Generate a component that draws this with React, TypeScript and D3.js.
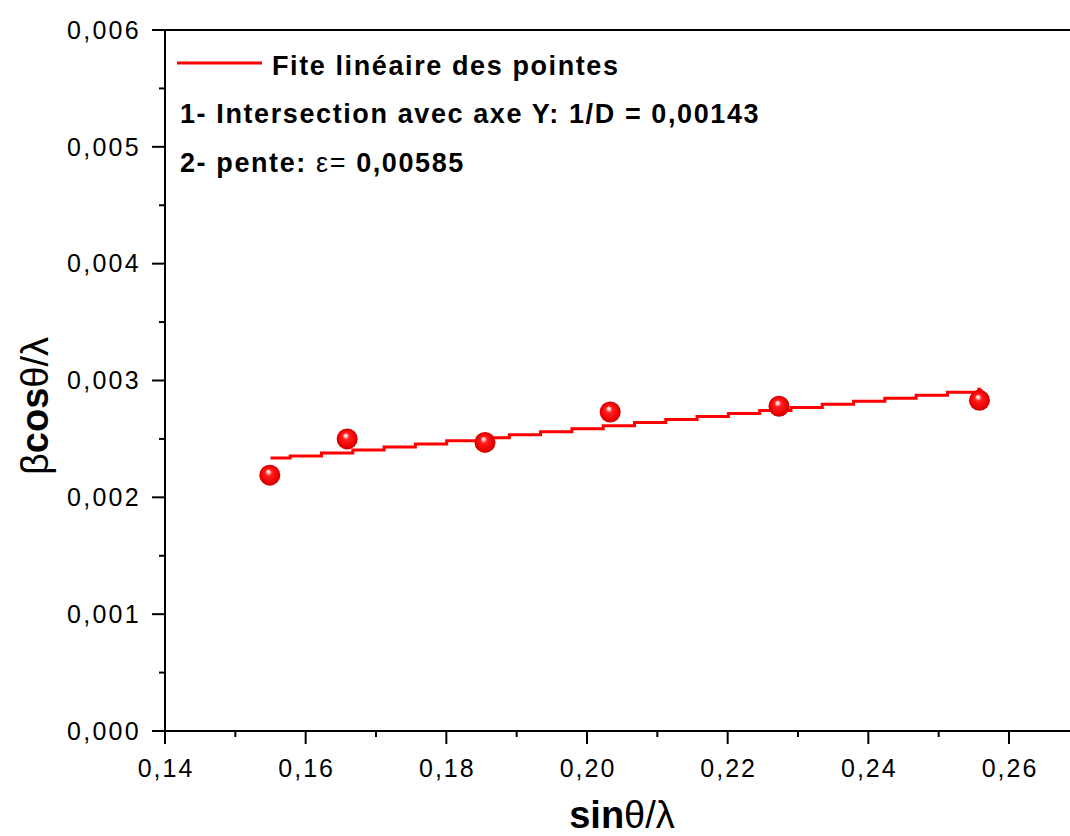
import React from "react";
import * as d3 from "d3";

const xValues = [0.1549, 0.1659, 0.1855, 0.2033, 0.2273, 0.2558];
const yValues = [0.00219, 0.0025, 0.00247, 0.00273, 0.00278, 0.00283];
const xTicks = [0.14, 0.16, 0.18, 0.2, 0.22, 0.24, 0.26];
const yTicks = [0, 0.001, 0.002, 0.003, 0.004, 0.005, 0.006];
const FIT_INTERCEPT = 0.00143;
const FIT_SLOPE = 0.00585;
const FIT_START = 0.155;
const FIT_END = 0.256;
const FIT_FIRST_STEP = 0.1578;
const FIT_STEP = 0.00445;

const W = 1070;
const H = 836;
const left = 165;
const top = 30;
const bottom = 731;

const x = d3.scaleLinear().domain([0.14, 0.26]).range([left, 1009]);
const y = d3.scaleLinear().domain([0, 0.006]).range([bottom, top]);

const fmtX = (v: number) => v.toFixed(2).replace(".", ",");
const fmtY = (v: number) => v.toFixed(3).replace(".", ",");

export default function App() {
  const fitXs: number[] = [FIT_START];
  for (let v = FIT_FIRST_STEP; v < FIT_END; v += FIT_STEP) fitXs.push(v);
  fitXs.push(FIT_END);
  const fitPts = fitXs.map((v) => [v, FIT_INTERCEPT + FIT_SLOPE * v] as [number, number]);
  const fitLine = d3
    .line<[number, number]>()
    .x((d) => x(d[0]))
    .y((d) => y(d[1]))
    .curve(d3.curveStepAfter)(fitPts) as string;

  const xMinor = d3.range(0, 7).map((i) => 0.15 + i * 0.02);
  const yMinor = d3.range(0, 6).map((i) => 0.0005 + i * 0.001);

  const font = "Liberation Sans, Arial, sans-serif";
  const legendProps = {
    fontFamily: font,
    fontSize: 27,
    fontWeight: "bold" as const,
    letterSpacing: 1.6,
    fill: "#000",
  };

  return (
    <div style={{ position: "absolute", left: 0, top: 0 }}>
      <svg width={W} height={H} style={{ display: "block", background: "#fff" }}>
        <defs>
          <radialGradient id="ball" cx="50%" cy="50%" r="50%" fx="42%" fy="32%">
            <stop offset="0%" stopColor="#ffffff" />
            <stop offset="14%" stopColor="#ffc0c0" />
            <stop offset="32%" stopColor="#ff2020" />
            <stop offset="80%" stopColor="#f00000" />
            <stop offset="100%" stopColor="#c00000" />
          </radialGradient>
        </defs>

        {/* frame */}
        <line x1={left} x2={W} y1={top} y2={top} stroke="#000" strokeWidth={2} />
        <line x1={left} x2={left} y1={top - 1} y2={bottom + 1} stroke="#000" strokeWidth={2} />
        <line x1={left - 1} x2={W} y1={bottom} y2={bottom} stroke="#000" strokeWidth={2} />

        {/* y ticks */}
        {yTicks.map((t) => (
          <g key={"yt" + t}>
            <line x1={left - 13} x2={left} y1={y(t)} y2={y(t)} stroke="#000" strokeWidth={2} />
            <text
              x={141}
              y={y(t)}
              dy="0.35em"
              textAnchor="end"
              fontFamily={font}
              fontSize={25}
              letterSpacing={2.3}
              fill="#000"
            >
              {fmtY(t)}
            </text>
          </g>
        ))}
        {yMinor.map((t) => (
          <line key={"ym" + t} x1={left - 6} x2={left} y1={y(t)} y2={y(t)} stroke="#000" strokeWidth={2} />
        ))}

        {/* x ticks */}
        {xTicks.map((t) => (
          <g key={"xt" + t}>
            <line x1={x(t)} x2={x(t)} y1={bottom} y2={bottom + 13} stroke="#000" strokeWidth={2} />
            <text
              x={x(t) + 1}
              y={777}
              textAnchor="middle"
              fontFamily={font}
              fontSize={25}
              letterSpacing={2}
              fill="#000"
            >
              {fmtX(t)}
            </text>
          </g>
        ))}
        {xMinor.map((t) => (
          <line key={"xm" + t} x1={x(t)} x2={x(t)} y1={bottom} y2={bottom + 6} stroke="#000" strokeWidth={2} />
        ))}

        {/* axis titles */}
        <text x={622} y={828} textAnchor="middle" fontFamily={font} fontSize={38} fill="#000">
          <tspan fontWeight="bold">sin</tspan>
          <tspan>θ/λ</tspan>
        </text>
        <text
          transform="translate(48,406) rotate(-90)"
          textAnchor="middle"
          fontFamily={font}
          fontSize={38}
          fill="#000"
        >
          <tspan>β</tspan>
          <tspan fontWeight="bold">cos</tspan>
          <tspan>θ/λ</tspan>
        </text>

        {/* fit line */}
        <path d={fitLine} fill="none" stroke="#ff0000" strokeWidth={3} />

        {/* points */}
        {xValues.map((v, i) => (
          <circle key={"p" + i} cx={x(v)} cy={y(yValues[i])} r={10.5} fill="url(#ball)" />
        ))}

        {/* legend */}
        <line x1={177} x2={262} y1={63} y2={63} stroke="#ff0000" strokeWidth={3} />
        <text x={272} y={75} {...legendProps}>
          Fite linéaire des pointes
        </text>
        <text x={180} y={123} {...legendProps}>
          1- Intersection avec axe Y: 1/D = 0,00143
        </text>
        <text x={180} y={172} {...legendProps}>
          <tspan>2- pente: </tspan>
          <tspan fontWeight="normal">ε=</tspan>
          <tspan> 0,00585</tspan>
        </text>
      </svg>
    </div>
  );
}
